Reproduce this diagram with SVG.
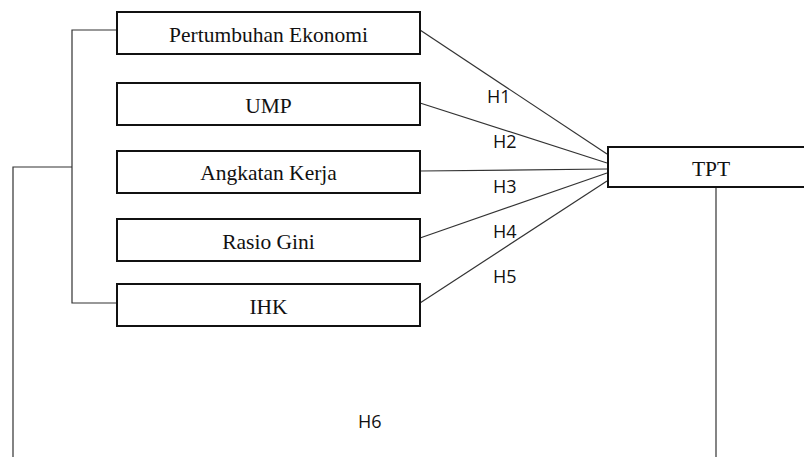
<svg xmlns="http://www.w3.org/2000/svg" width="804" height="457" viewBox="0 0 804 457">
<style>
.box{fill:#fff;stroke:#111;stroke-width:2}
.lbl{font-family:"Liberation Serif","Times New Roman",serif;font-size:21.5px;fill:#111;text-anchor:middle}
.h{font-family:"Open Sans","Liberation Sans",Arial,sans-serif;font-size:18px;fill:#111}
.ln{stroke:#333;stroke-width:1.2;fill:none}
</style>
<rect width="804" height="457" fill="#fff"/>
<g id="connectors">
<polyline class="ln" points="117,30 72,30 72,303 117,303"/>
<polyline class="ln" points="72,167 13,167 13,457"/>
<line class="ln" x1="716" y1="187" x2="716" y2="457"/>
<line class="ln" x1="420" y1="30" x2="607" y2="154"/>
<line class="ln" x1="420" y1="103" x2="607" y2="163"/>
<line class="ln" x1="420" y1="171" x2="607" y2="169"/>
<line class="ln" x1="420" y1="238" x2="607" y2="173"/>
<line class="ln" x1="420" y1="303" x2="607" y2="181"/>
<text class="h" x="487" y="103">H1</text>
<text class="h" x="493" y="148">H2</text>
<text class="h" x="493" y="193">H3</text>
<text class="h" x="493" y="238">H4</text>
<text class="h" x="493" y="283">H5</text>
<text class="h" x="358" y="428">H6</text>
</g>
<g id="pertumbuhan-ekonomi">
<rect class="box" x="117" y="12" width="303" height="42"/>
<text class="lbl" x="268.5" y="41.5">Pertumbuhan Ekonomi</text>
</g>
<g id="ump">
<rect class="box" x="117" y="83" width="303" height="42"/>
<text class="lbl" x="268.5" y="112.5">UMP</text>
</g>
<g id="angkatan-kerja">
<rect class="box" x="117" y="151" width="303" height="42"/>
<text class="lbl" x="268.5" y="180">Angkatan Kerja</text>
</g>
<g id="rasio-gini">
<rect class="box" x="117" y="219" width="303" height="42"/>
<text class="lbl" x="268.5" y="248.5">Rasio Gini</text>
</g>
<g id="ihk">
<rect class="box" x="117" y="284" width="303" height="42"/>
<text class="lbl" x="268.5" y="313.5">IHK</text>
</g>
<g id="tpt">
<rect class="box" x="608" y="147" width="210" height="40"/>
<text class="lbl" x="711" y="176">TPT</text>
</g>
</svg>
